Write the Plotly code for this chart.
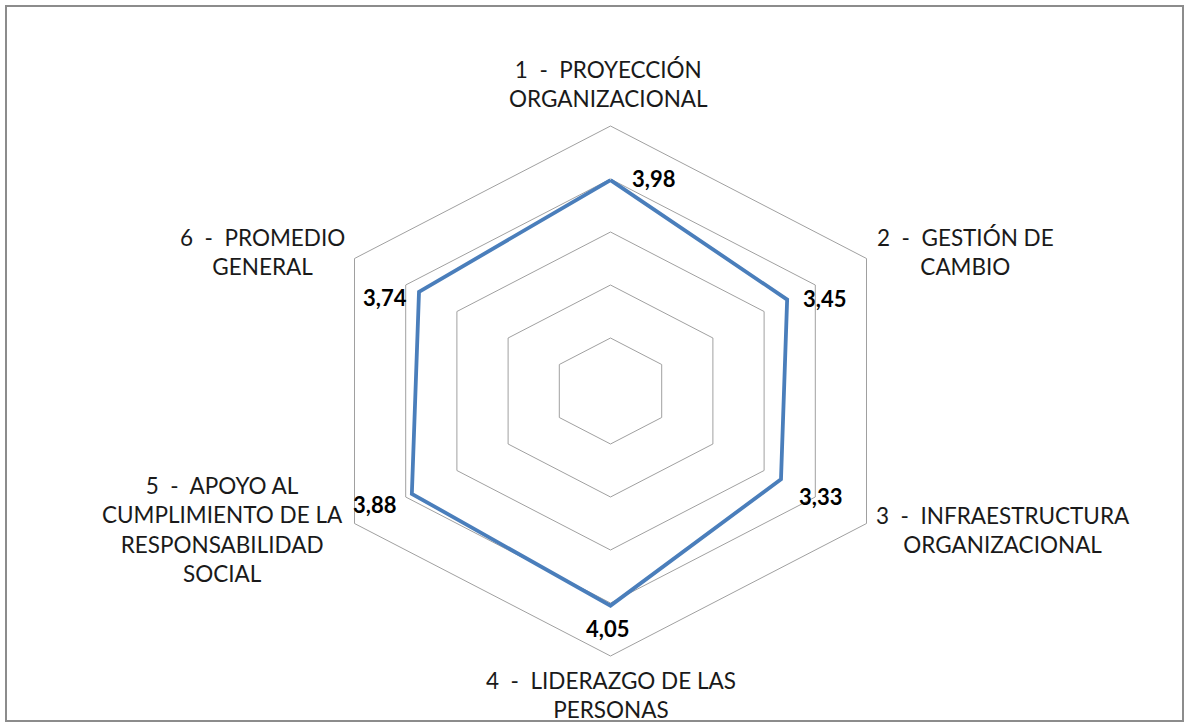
import math
import plotly.graph_objects as go

# ---- data ----
categories = [
    "1\u00a0\u00a0-\u00a0\u00a0PROYECCIÓN<br>ORGANIZACIONAL",
    "2\u00a0\u00a0-\u00a0\u00a0GESTIÓN DE<br>CAMBIO",
    "3\u00a0\u00a0-\u00a0\u00a0INFRAESTRUCTURA<br>ORGANIZACIONAL",
    "4\u00a0\u00a0-\u00a0\u00a0LIDERAZGO DE LAS<br>PERSONAS",
    "5\u00a0\u00a0-\u00a0\u00a0APOYO AL<br>CUMPLIMIENTO DE LA<br>RESPONSABILIDAD<br>SOCIAL",
    "6\u00a0\u00a0-\u00a0\u00a0PROMEDIO<br>GENERAL",
]
values = [3.98, 3.45, 3.33, 4.05, 3.88, 3.74]
value_labels = ["3,98", "3,45", "3,33", "4,05", "3,88", "3,74"]
ring_levels = [1, 2, 3, 4, 5]

# ---- layout / style constants ----
W, H = 1187, 724
CX, CY = 610.5, 391.0          # chart centre, px from top-left
PX_X, PX_Y = 59.12, 53.0       # px per unit (horizontal, vertical)
LINE_BLUE = "#4A7EBB"
GRID = "#A0A0A0"
TXT = "#1a1a1a"
FONT = "Lato, 'Open Sans', sans-serif"

# category label centres (px) and value label offsets (px)
cat_pos = [(609, 84), (965, 252), (1003, 530), (611, 695), (222, 529), (262, 252)]
val_shift = [(43, -2), (37, -1), (40, 17), (-3, 23), (-37, 11), (-34, 6)]

n = len(categories)
angles = [math.radians(90 - 360.0 * i / n) for i in range(n)]


def to_xy(vals):
    xs = [v * math.cos(a) for v, a in zip(vals, angles)]
    ys = [v * math.sin(a) for v, a in zip(vals, angles)]
    return xs + xs[:1], ys + ys[:1]


fig = go.Figure()

for lvl in ring_levels:
    gx, gy = to_xy([lvl] * n)
    fig.add_trace(go.Scatter(x=gx, y=gy, mode="lines",
                             line=dict(color=GRID, width=1),
                             hoverinfo="skip", showlegend=False))

sx, sy = to_xy(values)
fig.add_trace(go.Scatter(x=sx, y=sy, mode="lines",
                         line=dict(color=LINE_BLUE, width=3.8),
                         customdata=value_labels + value_labels[:1],
                         hovertemplate="%{customdata}<extra></extra>",
                         showlegend=False))

annotations = []
for i in range(n):
    annotations.append(dict(
        x=sx[i], y=sy[i], xref="x", yref="y", text="<b>%s</b>" % value_labels[i],
        showarrow=False, xshift=val_shift[i][0], yshift=-val_shift[i][1],
        font=dict(family=FONT, size=22, color="#000000")))
    px, py = cat_pos[i]
    annotations.append(dict(
        x=px / W, y=1 - py / H, xref="paper", yref="paper", text=categories[i],
        showarrow=False, xanchor="center", yanchor="middle", align="center",
        font=dict(family=FONT, size=22.5, color=TXT)))

fig.update_layout(
    width=W, height=H,
    margin=dict(l=0, r=0, t=0, b=0),
    paper_bgcolor="white", plot_bgcolor="white",
    xaxis=dict(range=[-CX / PX_X, (W - CX) / PX_X], visible=False, fixedrange=True),
    yaxis=dict(range=[-(H - CY) / PX_Y, CY / PX_Y], visible=False, fixedrange=True),
    annotations=annotations,
    shapes=[dict(type="rect", xref="paper", yref="paper",
                 x0=6 / W, x1=1183 / W, y0=1 - 721 / H, y1=1 - 6 / H,
                 line=dict(color="#8C8C8C", width=2), fillcolor="rgba(0,0,0,0)",
                 layer="below")],
)

fig.write_html("out.html", config={"displayModeBar": False},
               post_script="document.body.style.margin='0';")
